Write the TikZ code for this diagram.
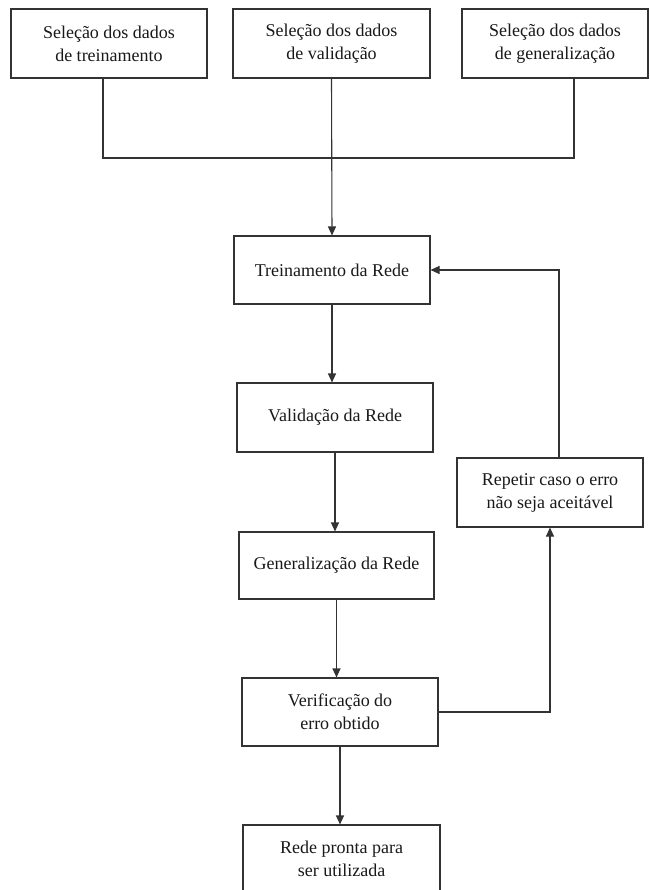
\documentclass[tikz,border=0pt]{standalone}
\usepackage{fontspec}
\setmainfont{Liberation Serif}
\usetikzlibrary{arrows.meta}
\begin{document}
\begin{tikzpicture}[x=1pt,y=-1pt,
  box/.style={draw=black!80, line width=1.1pt, align=center, inner sep=0pt,
    font=\fontsize{18}{23}\selectfont, text=black!90},
  conn/.style={draw=black!80, line width=1.1pt},
  arr/.style={conn, -{Triangle[length=9pt,width=8pt]}}]
\useasboundingbox (0,0) rectangle (649,890);
\clip (0,0) rectangle (649,890);
\fill[white] (0,0) rectangle (649,890);
% top row
\node[box, minimum width=196pt, minimum height=69pt] (b1) at (109,43.5) {Seleção dos dados\\de treinamento};
\node[box, minimum width=197pt, minimum height=69pt] (b2) at (331.5,43.5) {Seleção dos dados\\de validação};
\node[box, minimum width=186pt, minimum height=69pt] (b3) at (555,43.5) {Seleção dos dados\\de generalização};
% main column
\node[box, minimum width=196pt, minimum height=68pt] (train) at (332,270) {Treinamento da Rede};
\node[box, minimum width=196pt, minimum height=69pt] (val) at (335,417.5) {Validação da Rede};
\node[box, minimum width=195pt, minimum height=67pt] (gen) at (336.5,565.5) {Generalização da Rede};
\node[box, minimum width=196pt, minimum height=68pt] (ver) at (340,712) {Verificação do\\erro obtido};
\node[box, minimum width=197pt, minimum height=68pt] (rede) at (341.5,859) {Rede pronta para\\ser utilizada};
\node[box, minimum width=186pt, minimum height=69pt] (rep) at (550,492.5) {Repetir caso o erro\\não seja aceitável};
% junction coordinates
\coordinate (j1) at (103,158);
\coordinate (j3) at (574,158);
\coordinate (fb) at (559,270);
% connectors
\draw[conn] (b1.south -| j1) -- (j1) -- (j3) -- (b3.south -| j3);
\draw[arr] (b2.south) -- (train.north);
\draw[arr] (train.south) -- (train.south |- val.north);
\draw[arr] (val.south) -- (val.south |- gen.north);
\draw[arr] (gen.south) -- (gen.south |- ver.north);
\draw[arr] (ver.south) -- (ver.south |- rede.north);
\draw[arr] (ver.east) -| (rep.south);
\draw[arr] (rep.north -| fb) -- (fb) -- (train.east);
\end{tikzpicture}
\end{document}
